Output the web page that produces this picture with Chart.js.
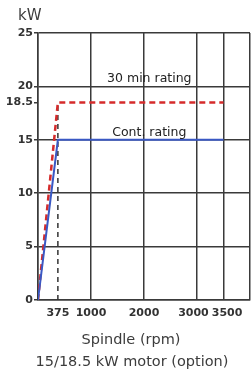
<!DOCTYPE html>
<html>
<head>
<meta charset="utf-8">
<script src="https://cdn.jsdelivr.net/npm/chart.js@4"></script>
<style>
  html, body { margin: 0; padding: 0; background: #fff; }
  #wrap { position: relative; width: 251px; height: 378px; overflow: hidden; }
  #powerChart { position: absolute; left: 0; top: 0; }
  .lbl { position: absolute; font-family: "DejaVu Sans", sans-serif; color: #3c3c3c; white-space: nowrap; }
  #unit { left: 18px; top: 6px; font-size: 15px; }
  #xTitle { left: 131px; transform: translateX(-50%); top: 331px; font-size: 14.5px; }
  #caption { left: 132px; transform: translateX(-50%); top: 353px; font-size: 14.5px; }
</style>
</head>
<body>
<div id="wrap">
  <canvas id="powerChart" width="251" height="378"></canvas>
  <div class="lbl" id="unit">kW</div>
  <div class="lbl" id="xTitle">Spindle (rpm)</div>
  <div class="lbl" id="caption">15/18.5 kW motor (option)</div>
</div>
<script>
// spindle speed (rpm) and power (kW)
const rpm30 = [0, 375, 3500];
const kw30 = [0, 18.5, 18.5];
const rpmCont = [0, 375, 3500];
const kwCont = [0, 15, 15];
const baseRpm = [375, 375];
const baseKw = [0, 18.5];

const xTicks = [0, 375, 1000, 2000, 3000, 3500, 4000];
const xTickLabels = ["", "375", "1000", "2000", "3000", "3500", ""];
const yTicks = [0, 5, 10, 15, 18.5, 20, 25];

const ratingNames = ["30 min rating", "Cont. rating"];
const ratingLevels = [20, 15];

const gridColor = "#3a3a3a";
const tickFont = "bold 11px 'DejaVu Sans'";

function toPoints(xs, ys) {
  return xs.map((x, i) => ({ x: x, y: ys[i] }));
}

// rating texts sit just above their grid line
const ratingText = {
  id: "ratingText",
  afterDatasetsDraw(chart) {
    const { ctx, scales } = chart;
    ctx.save();
    ctx.font = "12.5px 'DejaVu Sans'";
    ctx.fillStyle = "#222";
    ctx.textAlign = "center";
    ctx.textBaseline = "alphabetic";
    ratingNames.forEach((name, i) => {
      ctx.fillText(name, scales.x.getPixelForValue(2100), scales.y.getPixelForValue(ratingLevels[i]) - 4);
    });
    ctx.restore();
  }
};

// x tick labels, pushed apart a little where they would overlap
const xLabels = {
  id: "xLabels",
  afterDraw(chart) {
    const { ctx, scales } = chart;
    ctx.save();
    ctx.font = tickFont;
    ctx.fillStyle = "#333";
    ctx.textAlign = "center";
    ctx.textBaseline = "top";
    const items = [];
    xTicks.forEach((v, i) => {
      if (!xTickLabels[i]) return;
      items.push({ text: xTickLabels[i], x: scales.x.getPixelForValue(v), w: ctx.measureText(xTickLabels[i]).width });
    });
    for (let i = 1; i < items.length; i++) {
      const a = items[i - 1], b = items[i];
      const overlap = (a.w + b.w) / 2 + 3 - (b.x - a.x);
      if (overlap > 0) { a.x -= overlap / 2; b.x += overlap / 2; }
    }
    const last = items[items.length - 1];
    const maxX = chart.width - last.w / 2 - 1;
    if (last.x > maxX) last.x = maxX;
    const y = scales.x.top + 8;
    items.forEach(it => ctx.fillText(it.text, it.x, y));
    ctx.restore();
  }
};

new Chart(document.getElementById("powerChart"), {
  type: "line",
  data: {
    datasets: [
      { label: "Cont. rating", data: toPoints(rpmCont, kwCont), borderColor: "#3a58c4", borderWidth: 2, pointRadius: 0, tension: 0 },
      { label: "30 min rating", data: toPoints(rpm30, kw30), borderColor: "#d52b2b", borderWidth: 2.5, borderDash: [6, 4], pointRadius: 0, tension: 0 },
      { label: "base speed", data: toPoints(baseRpm, baseKw), borderColor: "#333", borderWidth: 1.5, borderDash: [5, 4], pointRadius: 0, tension: 0 }
    ]
  },
  options: {
    responsive: false,
    animation: false,
    events: [],
    layout: { padding: { top: 33, right: 1, left: 0, bottom: 0 } },
    plugins: { legend: { display: false }, tooltip: { enabled: false } },
    scales: {
      x: {
        type: "linear",
        min: 0,
        max: 4000,
        afterBuildTicks: (s) => { s.ticks = xTicks.map(v => ({ value: v })); },
        afterFit: (s) => { s.height = 78; },
        grid: { color: (c) => (c.tick && c.tick.value === 375 ? "rgba(0,0,0,0)" : gridColor), lineWidth: 1.5, drawTicks: false },
        border: { color: gridColor, width: 1.5 },
        ticks: { display: false }
      },
      y: {
        min: 0,
        max: 25,
        afterBuildTicks: (s) => { s.ticks = yTicks.map(v => ({ value: v })); },
        afterFit: (s) => { s.width = 38; },
        grid: { color: (c) => (c.tick && c.tick.value === 18.5 ? "rgba(0,0,0,0)" : gridColor), tickColor: gridColor, lineWidth: 1.5, tickLength: 4 },
        border: { color: gridColor, width: 1.5 },
        ticks: { font: { family: "DejaVu Sans", size: 11, weight: "bold" }, color: "#333", padding: 1, callback: (v) => String(v) }
      }
    }
  },
  plugins: [ratingText, xLabels]
});
</script>
</body>
</html>
